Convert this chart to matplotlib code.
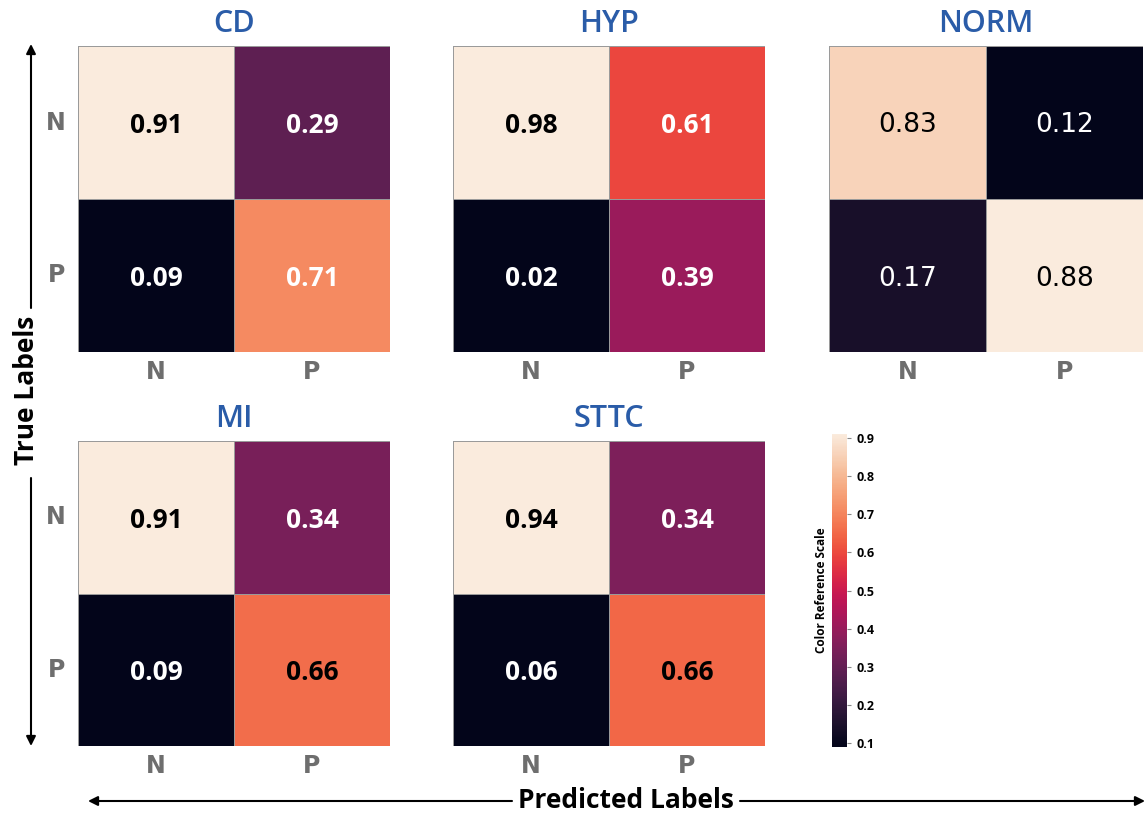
import matplotlib
matplotlib.use("Agg")
import matplotlib.pyplot as plt
import numpy as np
import seaborn as sns
from matplotlib.cm import ScalarMappable
from matplotlib.colors import Normalize

# ---- data ----
titles = ["CD", "HYP", "NORM", "MI", "STTC"]
tick_labels = ["N", "P"]
cd = [[0.91, 0.29], [0.09, 0.71]]
hyp = [[0.98, 0.61], [0.02, 0.39]]
norm_ = [[0.83, 0.12], [0.17, 0.88]]
mi = [[0.91, 0.34], [0.09, 0.66]]
sttc = [[0.94, 0.34], [0.06, 0.66]]
matrices = [cd, hyp, norm_, mi, sttc]
cbar_ticks = [0.1, 0.2, 0.3, 0.4, 0.5, 0.6, 0.7, 0.8, 0.9]

# ---- style ----
text_colors = [
    [["black", "white"], ["white", "white"]],
    [["black", "white"], ["white", "white"]],
    [["black", "white"], ["white", "black"]],
    [["black", "white"], ["white", "black"]],
    [["black", "white"], ["white", "black"]],
]
show_ylabels = [True, False, False, True, False]
W, H = 1146, 817
boxes_px = [
    (78, 46, 312, 306),
    (453, 46, 312, 306),
    (829, 46, 314, 306),
    (78, 441, 312, 305),
    (453, 441, 312, 305),
]
title_color = "#2a5ca8"
cmap = sns.color_palette("rocket", as_cmap=True)

fig = plt.figure(figsize=(W / 100, H / 100), dpi=100)

def px_box(x, y, w, h):
    return [x / W, 1 - (y + h) / H, w / W, h / H]

for i, (mat, title) in enumerate(zip(matrices, titles)):
    ax = fig.add_axes(px_box(*boxes_px[i]))
    arr = np.array(mat)
    sns.heatmap(arr, ax=ax, cmap=cmap, cbar=False, annot=False,
                linewidths=0.5, linecolor="#9a9a9a",
                xticklabels=tick_labels,
                yticklabels=tick_labels if show_ylabels[i] else False)
    for r in range(2):
        for c in range(2):
            if title == "NORM":
                ax.text(c + 0.5, r + 0.5, f"{arr[r, c]:.2f}",
                        ha="center", va="center_baseline", fontsize=19,
                        family="DejaVu Sans", fontweight="medium",
                        color=text_colors[i][r][c])
            else:
                ax.text(c + 0.5, r + 0.5, f"{arr[r, c]:.2f}",
                        ha="center", va="center_baseline", fontsize=19,
                        family="Open Sans", fontweight="bold",
                        color=text_colors[i][r][c])
    ax.set_title(title, color=title_color, fontsize=22, family="Open Sans",
                 fontweight="semibold", pad=10)
    ax.tick_params(length=0, pad=6)
    for lab in ax.get_xticklabels() + ax.get_yticklabels():
        lab.set_family("DejaVu Sans")
        lab.set_fontweight("bold")
        lab.set_fontsize(17)
        lab.set_color("#6e6e6e")
        lab.set_rotation(0)
    ax.tick_params(axis="y", pad=9)

# colorbar (scale of the CD matrix)
cax = fig.add_axes(px_box(832, 434, 15, 313))
vals = np.array(cd)
sm = ScalarMappable(norm=Normalize(vmin=vals.min(), vmax=vals.max()), cmap=cmap)
cb = fig.colorbar(sm, cax=cax, ticks=cbar_ticks)
cb.outline.set_visible(False)
cb.ax.tick_params(labelsize=9, length=3, color="#888888", width=0.8)
for lab in cb.ax.get_yticklabels():
    lab.set_fontweight("bold")
    lab.set_family("Open Sans")
cax.yaxis.set_label_position("left")
cax.set_ylabel("Color Reference Scale", fontsize=8.5, fontweight="bold",
               family="Open Sans", labelpad=3)

# axis labels with arrows
lab_font = dict(family=["Liberation Sans Narrow", "Open Sans"], fontweight="bold",
                fontsize=19, color="black")
fig.text(27 / W, 1 - 390 / H, "True Labels", rotation=90, ha="center",
         va="center", **lab_font)
fig.text(626 / W, 1 - 801 / H, "Predicted Labels", ha="center",
         va="center", **lab_font)

arrow = dict(arrowstyle="-|>", color="black", lw=1.5, mutation_scale=14,
             shrinkA=0, shrinkB=0)
fig.add_artist(matplotlib.patches.FancyArrowPatch(
    (31 / W, 1 - 308 / H), (31 / W, 1 - 44 / H), transform=fig.transFigure, **arrow))
fig.add_artist(matplotlib.patches.FancyArrowPatch(
    (31 / W, 1 - 478 / H), (31 / W, 1 - 746 / H), transform=fig.transFigure, **arrow))
fig.add_artist(matplotlib.patches.FancyArrowPatch(
    (512 / W, 1 - 801 / H), (88 / W, 1 - 801 / H), transform=fig.transFigure, **arrow))
fig.add_artist(matplotlib.patches.FancyArrowPatch(
    (740 / W, 1 - 801 / H), (1145 / W, 1 - 801 / H), transform=fig.transFigure, **arrow))

fig.savefig("out.png", dpi=100)
